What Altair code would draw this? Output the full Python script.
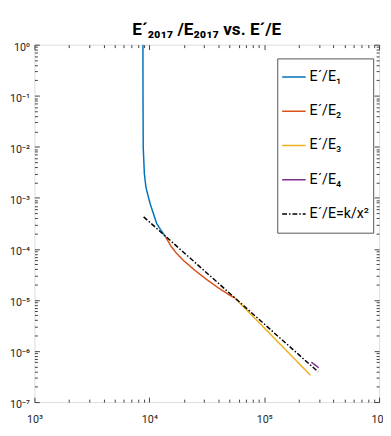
import altair as alt
import pandas as pd

FONT = "Roboto"
AXC = "#404040"

series_names = ["E´/E₁", "E´/E₂", "E´/E₃", "E´/E₄", "E´/E=k/x²"]
colors = ["#0072BD", "#D95319", "#EDB120", "#7E2F8E", "#000000"]
dashes = [[1, 0], [1, 0], [1, 0], [1, 0], [5, 2, 1.5, 2]]

e1_x = [8800, 8810, 8850, 9050, 9350, 10160, 11580, 12500, 13900]
e1_y = [1.0, 0.1, 0.01, 3e-3, 1.6e-3, 7.7e-4, 3.17e-4, 2.4e-4, 1.7e-4]

e2_x = [13900, 15490, 17140, 19950, 25120, 31620, 39810, 50120, 55590]
e2_y = [1.7e-4, 1.12e-4, 8.34e-5, 5.87e-5, 3.75e-5, 2.51e-5, 1.73e-5, 1.24e-5, 1.09e-5]

e3_x = [55590, 100000, 150000, 200000, 252700]
e3_y = [1.09e-5, 2.84e-6, 1.12e-6, 5.75e-7, 3.36e-7]

e4_x = [257700, 298000]
e4_y = [6.04e-7, 4.7e-7]

fit_x = [8925, 294000]
fit_y = [4.25e-4, 3.92e-7]

x_major = [1e3, 1e4, 1e5, 1e6]
x_labels = ["10³", "10⁴", "10⁵", "10⁶"]
y_major = [1e-7, 1e-6, 1e-5, 1e-4, 1e-3, 1e-2, 1e-1, 1.0]
y_labels = ["10⁻⁷", "10⁻⁶", "10⁻⁵", "10⁻⁴", "10⁻³", "10⁻²", "10⁻¹", "10⁰"]

x_minor = [m * d for d in [1e3, 1e4, 1e5] for m in range(2, 10)]
y_minor = [m * d for d in [1e-7, 1e-6, 1e-5, 1e-4, 1e-3, 1e-2, 1e-1] for m in range(2, 10)]

rows = []
for name, xs, ys in zip(series_names, [e1_x, e2_x, e3_x, e4_x, fit_x],
                        [e1_y, e2_y, e3_y, e4_y, fit_y]):
    for i, (a, b) in enumerate(zip(xs, ys)):
        rows.append({"series": name, "x": a, "y": b, "ord": i})
df = pd.DataFrame(rows)


def label_expr(values, labels):
    expr = "''"
    for v, l in reversed(list(zip(values, labels))):
        expr = f"datum.value < {v * 3.0} ? '{l}' : ({expr})"
    return expr


def make_axis(orient, values, size, labels=None, pad=0, loff=0):
    d = dict(orient=orient, values=values, tickSize=size, offset=-size,
             domain=False, grid=False, ticks=True, tickColor=AXC, tickWidth=1,
             title=None, labels=labels is not None)
    if labels is not None:
        d.update(labelExpr=label_expr(values, labels), labelFont=FONT,
                 labelFontSize=11, labelColor="#262626", labelPadding=pad,
                 labelOffset=loff, labelFlush=False, labelOverlap=False,
                 labelBound=False)
    return alt.Axis(**d)


xs = alt.Scale(type="log", domain=[1e3, 1e6], nice=False)
ys = alt.Scale(type="log", domain=[1e-7, 1.0], nice=False)

leg = alt.Legend(title=None, orient="none", legendX=248, legendY=14,
                 strokeColor="#555555", fillColor="white", padding=4,
                 symbolType="stroke", symbolSize=576, symbolStrokeWidth=1.5,
                 labelFontSize=14.5, labelFont=FONT, labelColor="#000000",
                 labelOffset=3, rowPadding=5, clipHeight=30, labelLimit=200)

lines = alt.Chart(df).mark_line(strokeWidth=1.5, clip=True).encode(
    x=alt.X("x:Q", scale=xs, axis=make_axis("bottom", x_major, 5, x_labels, 12)),
    y=alt.Y("y:Q", scale=ys, axis=make_axis("left", y_major, 5, y_labels, 5, 3)),
    color=alt.Color("series:N", scale=alt.Scale(domain=series_names, range=colors), legend=leg),
    strokeDash=alt.StrokeDash("series:N", scale=alt.Scale(domain=series_names, range=dashes), legend=leg),
    order="ord:Q",
)


def axis_layer(xax, yax):
    return alt.Chart(df).mark_point(opacity=0).encode(
        x=alt.X("x:Q", scale=xs, axis=xax),
        y=alt.Y("y:Q", scale=ys, axis=yax),
    )


layers = [
    lines,
    axis_layer(make_axis("bottom", x_minor, 3), make_axis("left", y_minor, 3)),
    axis_layer(make_axis("top", x_major, 5), make_axis("right", y_major, 5)),
    axis_layer(make_axis("top", x_minor, 3), make_axis("right", y_minor, 3)),
]

chart = alt.layer(*layers).resolve_axis(x="independent", y="independent").properties(
    width=352, height=365, autosize="none",
    padding={"left": 27, "top": 33, "right": 4, "bottom": 22},
    title=alt.TitleParams(text="E´₂₀₁₇ /E₂₀₁₇  vs. E´/E", fontSize=17.5, fontWeight="bold",
                          font=FONT, anchor="middle", offset=3, color="#000000"),
).configure_view(stroke=AXC, strokeWidth=1).configure(background="white")

chart.save("out.html", embed_options={"renderer": "svg", "actions": False})
